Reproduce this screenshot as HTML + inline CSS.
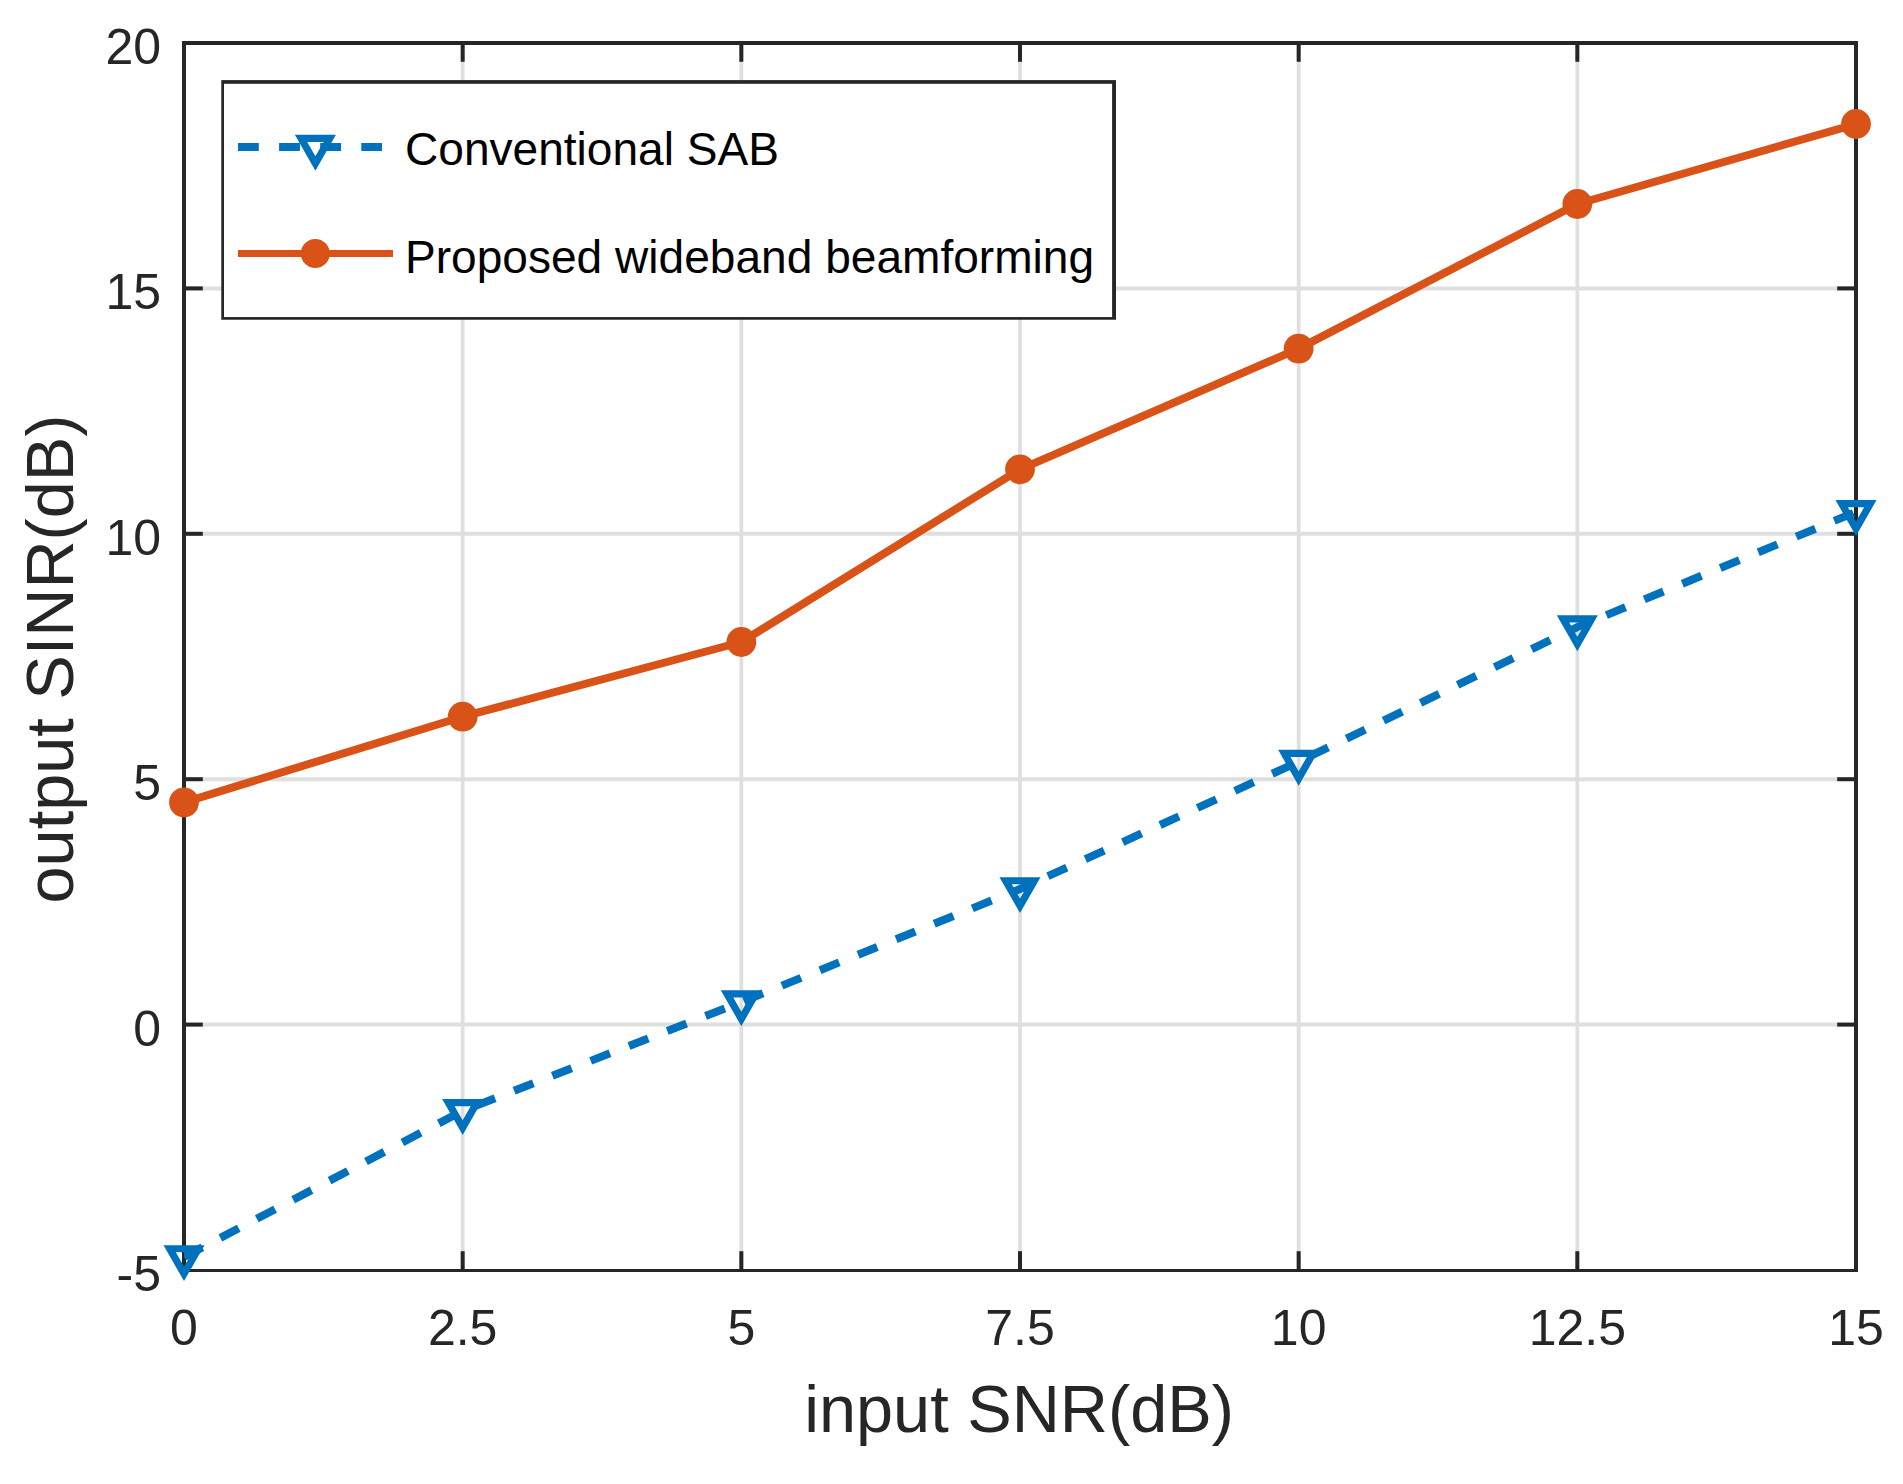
<!DOCTYPE html>
<html lang="en"><head><meta charset="utf-8"><title>output SINR vs input SNR</title>
<style>html,body{margin:0;padding:0;background:#fff}svg{display:block}text{font-family:"Liberation Sans",Arial,Helvetica,sans-serif}</style></head><body>
<svg width="1903" height="1484" viewBox="0 0 1903 1484">
<rect width="1903" height="1484" fill="#fff"/>
<g stroke="#dfdfdf" stroke-width="3.7"><line x1="462.67" y1="43.0" x2="462.67" y2="1270.0"/><line x1="741.33" y1="43.0" x2="741.33" y2="1270.0"/><line x1="1020.00" y1="43.0" x2="1020.00" y2="1270.0"/><line x1="1298.67" y1="43.0" x2="1298.67" y2="1270.0"/><line x1="1577.33" y1="43.0" x2="1577.33" y2="1270.0"/></g>
<g stroke="#dfdfdf" stroke-width="4"><line x1="184.0" y1="288.40" x2="1856.0" y2="288.40"/><line x1="184.0" y1="533.80" x2="1856.0" y2="533.80"/><line x1="184.0" y1="779.20" x2="1856.0" y2="779.20"/><line x1="184.0" y1="1024.60" x2="1856.0" y2="1024.60"/></g>
<g stroke="#262626" stroke-width="4"><line x1="462.67" y1="43.0" x2="462.67" y2="61.8"/><line x1="462.67" y1="1270.0" x2="462.67" y2="1251.2"/><line x1="741.33" y1="43.0" x2="741.33" y2="61.8"/><line x1="741.33" y1="1270.0" x2="741.33" y2="1251.2"/><line x1="1020.00" y1="43.0" x2="1020.00" y2="61.8"/><line x1="1020.00" y1="1270.0" x2="1020.00" y2="1251.2"/><line x1="1298.67" y1="43.0" x2="1298.67" y2="61.8"/><line x1="1298.67" y1="1270.0" x2="1298.67" y2="1251.2"/><line x1="1577.33" y1="43.0" x2="1577.33" y2="61.8"/><line x1="1577.33" y1="1270.0" x2="1577.33" y2="1251.2"/><line x1="184.0" y1="288.40" x2="202.8" y2="288.40"/><line x1="1856.0" y1="288.40" x2="1837.2" y2="288.40"/><line x1="184.0" y1="533.80" x2="202.8" y2="533.80"/><line x1="1856.0" y1="533.80" x2="1837.2" y2="533.80"/><line x1="184.0" y1="779.20" x2="202.8" y2="779.20"/><line x1="1856.0" y1="779.20" x2="1837.2" y2="779.20"/><line x1="184.0" y1="1024.60" x2="202.8" y2="1024.60"/><line x1="1856.0" y1="1024.60" x2="1837.2" y2="1024.60"/></g>
<g fill="#262626"><rect x="182" y="41" width="1676" height="4"/><rect x="182" y="1269" width="1676" height="3"/><rect x="182" y="41" width="4" height="1231"/><rect x="1854" y="41" width="4" height="1231"/></g>
<g fill="#262626" font-size="50"><text x="184.00" y="1345" text-anchor="middle">0</text><text x="462.67" y="1345" text-anchor="middle">2.5</text><text x="741.33" y="1345" text-anchor="middle">5</text><text x="1020.00" y="1345" text-anchor="middle">7.5</text><text x="1298.67" y="1345" text-anchor="middle">10</text><text x="1577.33" y="1345" text-anchor="middle">12.5</text><text x="1856.00" y="1345" text-anchor="middle">15</text><text x="161" y="64.00" text-anchor="end">20</text><text x="161" y="309.40" text-anchor="end">15</text><text x="161" y="554.80" text-anchor="end">10</text><text x="161" y="800.20" text-anchor="end">5</text><text x="161" y="1045.60" text-anchor="end">0</text><text x="161" y="1291.00" text-anchor="end">-5</text></g>
<text x="1019" y="1432.4" text-anchor="middle" font-size="66.67" fill="#262626">input SNR(dB)</text>
<text transform="translate(72.8,659) rotate(-90)" text-anchor="middle" font-size="66.67" fill="#262626">output SINR(dB)</text>
<defs><clipPath id="ax"><rect x="184.0" y="43.0" width="1672.0" height="1227.0"/></clipPath></defs>
<polyline clip-path="url(#ax)" points="184.00,1257.00 462.67,1110.80 741.33,1002.10 1020.00,889.00 1298.67,761.70 1577.33,627.10 1856.00,511.90" fill="none" stroke="#0072bd" stroke-width="8.0" stroke-dasharray="20.7 20.4"/>
<g fill="none" stroke="#0072bd" stroke-width="7.2" stroke-linejoin="miter"><path d="M169.68 1248.73L198.32 1248.73L184.00 1273.83Z"/><path d="M448.34 1102.53L476.99 1102.53L462.67 1127.63Z"/><path d="M727.01 993.83L755.66 993.83L741.33 1018.93Z"/><path d="M1005.67 880.73L1034.33 880.73L1020.00 905.83Z"/><path d="M1284.34 753.43L1312.99 753.43L1298.67 778.53Z"/><path d="M1563.01 618.83L1591.66 618.83L1577.33 643.93Z"/><path d="M1841.67 503.63L1870.33 503.63L1856.00 528.73Z"/></g>
<polyline clip-path="url(#ax)" points="184.00,802.40 462.67,716.70 741.33,642.00 1020.00,469.30 1298.67,348.60 1577.33,204.00 1856.00,124.00" fill="none" stroke="#d95319" stroke-width="8.0" stroke-linejoin="round"/>
<g fill="#d95319"><circle cx="184.00" cy="802.40" r="14.9"/><circle cx="462.67" cy="716.70" r="14.9"/><circle cx="741.33" cy="642.00" r="14.9"/><circle cx="1020.00" cy="469.30" r="14.9"/><circle cx="1298.67" cy="348.60" r="14.9"/><circle cx="1577.33" cy="204.00" r="14.9"/><circle cx="1856.00" cy="124.00" r="14.9"/></g>
<rect x="221.3" y="80.1" width="894.70" height="239.64" fill="#262626"/>
<rect x="224.0" y="83.8" width="888.10" height="233.25" fill="#fff"/>
<line x1="238" y1="147" x2="382" y2="147" stroke="#0072bd" stroke-width="8" stroke-dasharray="20.8 20.3"/>
<g fill="none" stroke="#0072bd" stroke-width="7.2"><path d="M301.07 138.47L329.72 138.47L315.40 163.57Z"/></g>
<rect x="238" y="250" width="155" height="7" fill="#d95319"/>
<circle cx="315.3" cy="253.5" r="14.5" fill="#d95319"/>
<text x="405" y="165" font-size="46.08" fill="#000">Conventional SAB</text>
<text x="405" y="273" font-size="46.08" fill="#000">Proposed wideband beamforming</text>
</svg></body></html>
